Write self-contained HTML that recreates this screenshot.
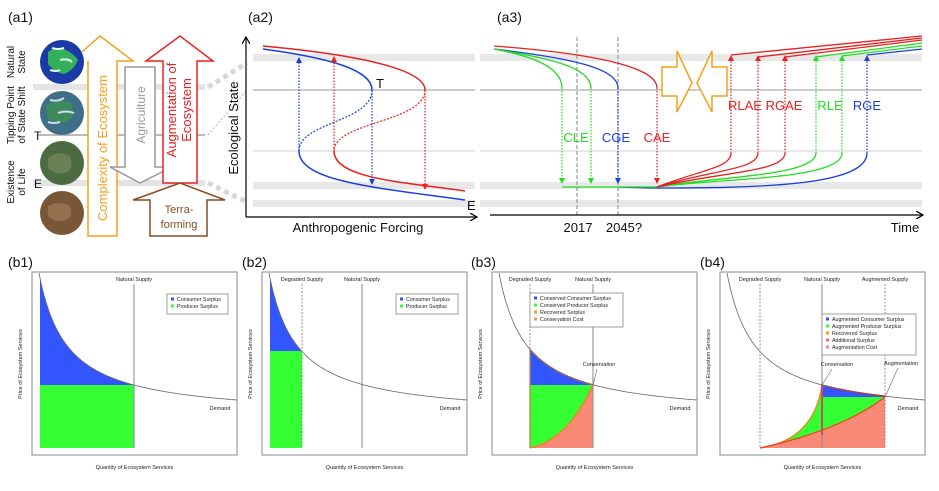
<!DOCTYPE html>
<html><head><meta charset="utf-8"><style>
html,body{margin:0;padding:0;background:#fff;}
svg{display:block;font-family:"Liberation Sans",Arial,sans-serif;}
.lbl{font-size:14px;fill:#111}
.ax{font-size:13px;fill:#111}
</style></head><body>
<svg width="939" height="491" viewBox="0 0 939 491" xmlns="http://www.w3.org/2000/svg">
<defs>
<marker id="ab" markerWidth="6" markerHeight="6" refX="3" refY="3" orient="auto" markerUnits="userSpaceOnUse"><path d="M0,0 L6,3 L0,6z" fill="#1a3fe0"/></marker>
<marker id="ar" markerWidth="6" markerHeight="6" refX="3" refY="3" orient="auto" markerUnits="userSpaceOnUse"><path d="M0,0 L6,3 L0,6z" fill="#e82020"/></marker>
<marker id="ag" markerWidth="6" markerHeight="6" refX="3" refY="3" orient="auto" markerUnits="userSpaceOnUse"><path d="M0,0 L6,3 L0,6z" fill="#22dd22"/></marker>
<marker id="ak" markerWidth="8" markerHeight="8" refX="6" refY="4" orient="auto" markerUnits="userSpaceOnUse"><path d="M0,0 L7,4 L0,8" fill="none" stroke="#000" stroke-width="1.2"/></marker>
</defs>

<!-- ===== a1 ===== -->
<text x="8" y="22" class="lbl">(a1)</text>
<rect x="33" y="84" width="172" height="6" fill="#e4e4e4"/>
<line x1="38" y1="135" x2="205" y2="135" stroke="#bbb" stroke-width="2"/>
<rect x="33" y="180" width="172" height="6" fill="#e4e4e4"/>
<circle cx="62" cy="62" r="22" fill="#1b3aa8"/>
<path d="M48,52 q8,-6 18,-2 q8,4 12,10 q-4,10 -14,14 q-10,-2 -16,-10z" fill="#35b05a"/>
<path d="M52,48 q6,2 12,0 M60,60 q8,-2 12,2 M50,70 q6,2 10,0" stroke="#dfe" stroke-width="2" fill="none"/>
<circle cx="62" cy="113" r="22" fill="#3f6f88"/>
<path d="M46,106 q10,-8 24,-4 q6,10 0,18 q-12,6 -22,-2z" fill="#3d8a5a"/>
<path d="M50,100 q8,2 14,-2 M58,113 q8,-3 16,0 M48,122 q6,2 12,0" stroke="#cde" stroke-width="2" fill="none"/>
<circle cx="62" cy="163" r="22" fill="#4d6b42"/>
<path d="M48,158 q10,-8 22,-2 q4,10 -2,16 q-12,4 -20,-4z" fill="#6b8055"/>
<circle cx="62" cy="213" r="22" fill="#7a5638"/>
<path d="M48,206 q10,-6 22,0 q4,10 -4,14 q-10,4 -18,-4z" fill="#95704f"/>
<text transform="translate(17,62) rotate(-90)" text-anchor="middle" font-size="10" fill="#111"><tspan x="0" dy="-3">Natural</tspan><tspan x="0" dy="11">State</tspan></text>
<text transform="translate(17,115) rotate(-90)" text-anchor="middle" font-size="10" fill="#111"><tspan x="0" dy="-3">Tipping Point</tspan><tspan x="0" dy="11">of State Shift</tspan></text>
<text transform="translate(17,182) rotate(-90)" text-anchor="middle" font-size="10" fill="#111"><tspan x="0" dy="-3">Existence</tspan><tspan x="0" dy="11">of Life</tspan></text>
<text x="34" y="140" font-size="12" fill="#111">T</text>
<text x="34" y="188" font-size="12" fill="#111">E</text>
<!-- orange arrow -->
<polygon points="88,236 117,236 117,61 133,61 100,36 88,46 88,61" fill="#fff" stroke="none"/>
<polyline points="88,61 88,236 117,236 117,61 133,61 100,36 82,52" fill="none" stroke="#f5a01a" stroke-width="1.5"/>
<text transform="translate(107,148) rotate(-90)" text-anchor="middle" font-size="13" fill="#f5a01a">Complexity of Ecosystem</text>
<!-- gray arrow -->
<polygon points="125,67 155,67 155,167 172,167 140,183 110,167 125,167" fill="#fff" stroke="#999" stroke-width="1.5"/>
<text transform="translate(145,115) rotate(-90)" text-anchor="middle" font-size="12" fill="#999">Agriculture</text>
<!-- red arrow -->
<polygon points="163,183 197,183 197,61 213,61 180,36 146,61 163,61" fill="#fff" stroke="#e82020" stroke-width="1.5"/>
<text transform="translate(180,110) rotate(-90)" text-anchor="middle" font-size="13" fill="#e82020"><tspan x="0" dy="-4">Augmentation of</tspan><tspan x="0" dy="15">Ecosystem</tspan></text>
<!-- brown arrow -->
<polygon points="150,236 207,236 207,200 225,200 180,183 133,200 150,200" fill="#fff" stroke="#8b4a20" stroke-width="1.5"/>
<text x="179" y="213" text-anchor="middle" font-size="11" fill="#8b4a20">Terra-</text>
<text x="179" y="228" text-anchor="middle" font-size="11" fill="#8b4a20">forming</text>
<line x1="208" y1="87" x2="247" y2="63" stroke="#d8d8d8" stroke-width="5" stroke-dasharray="5,4"/>
<line x1="208" y1="135" x2="247" y2="90" stroke="#c8c8c8" stroke-width="1.5" stroke-dasharray="2,2"/>
<line x1="208" y1="183" x2="247" y2="202" stroke="#d8d8d8" stroke-width="5" stroke-dasharray="5,4"/>

<!-- ===== a2 ===== -->
<text x="248" y="22" class="lbl">(a2)</text>
<rect x="253" y="54" width="222" height="7" fill="#e8e8e8"/>
<line x1="253" y1="90" x2="475" y2="90" stroke="#bbb" stroke-width="1.5"/>
<line x1="253" y1="151" x2="475" y2="151" stroke="#e8e8e8" stroke-width="2"/>
<rect x="253" y="182" width="222" height="7" fill="#e8e8e8"/>
<rect x="253" y="200" width="222" height="7" fill="#e8e8e8"/>
<line x1="246" y1="217" x2="246" y2="38" stroke="#000" stroke-width="1.2" marker-end="url(#ak)"/>
<line x1="246" y1="217" x2="476" y2="217" stroke="#000" stroke-width="1.2" marker-end="url(#ak)"/>
<text transform="translate(238,128) rotate(-90)" text-anchor="middle" class="ax">Ecological State</text>
<text x="358" y="232" text-anchor="middle" class="ax">Anthropogenic Forcing</text>
<path d="M263,46 C350,54 425,68 425,90" fill="none" stroke="#e82020" stroke-width="1.5"/>
<path d="M425,90 C425,122 334,122 334,151" fill="none" stroke="#e82020" stroke-width="1.2" stroke-dasharray="2,1.5"/>
<path d="M334,151 C334,178 400,182 465,191" fill="none" stroke="#e82020" stroke-width="1.5"/>
<path d="M263,49 C330,58 372,70 372,90" fill="none" stroke="#1a3fe0" stroke-width="1.5"/>
<path d="M372,90 C372,122 299,122 299,151" fill="none" stroke="#1a3fe0" stroke-width="1.2" stroke-dasharray="2,1.5"/>
<path d="M299,151 C299,182 380,188 465,200" fill="none" stroke="#1a3fe0" stroke-width="1.5"/>
<line x1="299" y1="151" x2="299" y2="60" stroke="#1a3fe0" stroke-width="1.2" stroke-dasharray="1.5,1.5" marker-end="url(#ab)"/>
<line x1="372" y1="90" x2="372" y2="182" stroke="#1a3fe0" stroke-width="1.2" stroke-dasharray="1.5,1.5" marker-end="url(#ab)"/>
<line x1="334" y1="151" x2="334" y2="59" stroke="#e82020" stroke-width="1.2" stroke-dasharray="1.5,1.5" marker-end="url(#ar)"/>
<line x1="425" y1="90" x2="425" y2="187" stroke="#e82020" stroke-width="1.2" stroke-dasharray="1.5,1.5" marker-end="url(#ar)"/>
<text x="376" y="88" font-size="13" fill="#111">T</text>
<text x="467" y="210" font-size="13" fill="#111">E</text>

<!-- ===== a3 ===== -->
<text x="497" y="22" class="lbl">(a3)</text>
<rect x="480" y="54" width="442" height="7" fill="#e8e8e8"/>
<line x1="480" y1="90" x2="922" y2="90" stroke="#bbb" stroke-width="1.5"/>
<line x1="480" y1="151" x2="922" y2="151" stroke="#e8e8e8" stroke-width="2"/>
<rect x="480" y="182" width="442" height="7" fill="#e8e8e8"/>
<rect x="480" y="200" width="442" height="7" fill="#e8e8e8"/>
<line x1="577" y1="37" x2="577" y2="215" stroke="#999" stroke-width="1.2" stroke-dasharray="4,2"/>
<line x1="618" y1="37" x2="618" y2="215" stroke="#999" stroke-width="1.2" stroke-dasharray="4,2"/>
<line x1="490" y1="215" x2="922" y2="215" stroke="#000" stroke-width="1.2" marker-end="url(#ak)"/>
<text x="578" y="232" text-anchor="middle" class="ax">2017</text>
<text x="624" y="232" text-anchor="middle" class="ax">2045?</text>
<text x="905" y="232" text-anchor="middle" class="ax">Time</text>
<path d="M494,46 C600,54 657,68 657,88" fill="none" stroke="#e82020" stroke-width="1.3"/>
<path d="M494,49 C570,58 618,68 618,88" fill="none" stroke="#1a3fe0" stroke-width="1.3"/>
<path d="M494,49 C545,58 591,66 591,88" fill="none" stroke="#22dd22" stroke-width="1.3"/>
<path d="M494,49 C530,56 562,66 562,88" fill="none" stroke="#22dd22" stroke-width="1.3"/>
<line x1="562" y1="88" x2="562" y2="181" stroke="#22dd22" stroke-width="1.2" stroke-dasharray="1.5,1.5" marker-end="url(#ag)"/>
<line x1="591" y1="88" x2="591" y2="181" stroke="#22dd22" stroke-width="1.2" stroke-dasharray="1.5,1.5" marker-end="url(#ag)"/>
<line x1="618" y1="88" x2="618" y2="181" stroke="#1a3fe0" stroke-width="1.2" stroke-dasharray="1.5,1.5" marker-end="url(#ab)"/>
<line x1="657" y1="88" x2="657" y2="181" stroke="#e82020" stroke-width="1.2" stroke-dasharray="1.5,1.5" marker-end="url(#ar)"/>
<path d="M618,187 L650,188 C760,188 867,186 867,153" fill="none" stroke="#1a3fe0" stroke-width="1.3"/>
<line x1="562" y1="187" x2="657" y2="187" stroke="#22dd22" stroke-width="1.3"/>
<path d="M657,187 C720,178 842,180 842,153" fill="none" stroke="#22dd22" stroke-width="1.3"/>
<path d="M657,187 C720,176 816,176 816,153" fill="none" stroke="#22dd22" stroke-width="1.3"/>
<path d="M657,187 C720,172 785,172 785,153" fill="none" stroke="#e82020" stroke-width="1.3"/>
<path d="M657,187 C710,170 758,170 758,153" fill="none" stroke="#e82020" stroke-width="1.3"/>
<path d="M657,187 C700,170 731,168 731,153" fill="none" stroke="#e82020" stroke-width="1.3"/>
<line x1="731" y1="153" x2="731" y2="58" stroke="#e82020" stroke-width="1.2" stroke-dasharray="1.5,1.5" marker-end="url(#ar)"/>
<line x1="758" y1="153" x2="758" y2="58" stroke="#e82020" stroke-width="1.2" stroke-dasharray="1.5,1.5" marker-end="url(#ar)"/>
<line x1="785" y1="153" x2="785" y2="58" stroke="#e82020" stroke-width="1.2" stroke-dasharray="1.5,1.5" marker-end="url(#ar)"/>
<line x1="816" y1="153" x2="816" y2="58" stroke="#22dd22" stroke-width="1.2" stroke-dasharray="1.5,1.5" marker-end="url(#ag)"/>
<line x1="842" y1="153" x2="842" y2="58" stroke="#22dd22" stroke-width="1.2" stroke-dasharray="1.5,1.5" marker-end="url(#ag)"/>
<line x1="867" y1="153" x2="867" y2="58" stroke="#1a3fe0" stroke-width="1.2" stroke-dasharray="1.5,1.5" marker-end="url(#ab)"/>
<path d="M731,55 L922,36" stroke="#e82020" stroke-width="1.3" fill="none"/>
<path d="M758,57 L922,38" stroke="#e82020" stroke-width="1.3" fill="none"/>
<path d="M785,57 L922,40" stroke="#e82020" stroke-width="1.3" fill="none"/>
<path d="M816,57 L922,43" stroke="#22dd22" stroke-width="1.3" fill="none"/>
<path d="M842,56 L922,46" stroke="#22dd22" stroke-width="1.3" fill="none"/>
<path d="M867,55 L922,49" stroke="#1a3fe0" stroke-width="1.3" fill="none"/>
<polygon points="662,67 677,67 677,51 692,83 677,112 677,96 662,96" fill="#fff" stroke="#f5a01a" stroke-width="1.5"/>
<polygon points="727,67 712,67 712,51 697,83 712,112 712,96 727,96" fill="#fff" stroke="#f5a01a" stroke-width="1.5"/>
<g font-size="13" text-anchor="middle">
<text x="576" y="142" fill="#22dd22">CLE</text>
<text x="616" y="142" fill="#1a3fe0">CGE</text>
<text x="657" y="142" fill="#e82020">CAE</text>
<text x="745" y="110" fill="#e82020">RLAE</text>
<text x="784" y="110" fill="#e82020">RGAE</text>
<text x="830" y="110" fill="#22dd22">RLE</text>
<text x="867" y="110" fill="#1a3fe0">RGE</text>
</g>

<g font-size="14" fill="#111">
<text x="8" y="267">(b1)</text>
<text x="242" y="267">(b2)</text>
<text x="471" y="267">(b3)</text>
<text x="700" y="267">(b4)</text>
</g>
<g id="bp"></g>
</svg>
<script>
(function(){
var g=document.getElementById('bp');var NS='http://www.w3.org/2000/svg';
function el(t,a,txt){var e=document.createElementNS(NS,t);for(var k in a)e.setAttribute(k,a[k]);if(txt!==undefined)e.textContent=txt;g.appendChild(e);return e;}
function f(x){return 145.9-4043/(x+20.9);}
function curve(ox,x0,x1){var d='';for(var x=x0;x<=x1;x+=1){d+=(d?'L':'M')+(ox+x).toFixed(1)+','+(272+f(x)).toFixed(1);}return d;}
function seg(ox,x0,x1){var d='';for(var x=x0;x<=x1;x+=1){d+='L'+(ox+x).toFixed(1)+','+(272+f(x)).toFixed(1);}return d;}
var boxes=[32,262,492,720],W=205,top=272,bot=455;
boxes.forEach(function(ox,i){
 if(i==0){
  el('path',{d:'M'+(ox+8)+','+(272+f(8))+seg(ox,8,102)+'L'+(ox+102)+',385 L'+(ox+8)+',385Z',fill:'#3355ff'});
  el('rect',{x:ox+8,y:385,width:94,height:63,fill:'#33ff33'});
 }
 if(i==1){
  el('path',{d:'M'+(ox+8)+','+(272+f(8))+seg(ox,8,40)+'L'+(ox+40)+',351 L'+(ox+8)+',351Z',fill:'#3355ff'});
  el('rect',{x:ox+8,y:351,width:32,height:97,fill:'#33ff33'});
 }
 if(i==2){
  var L=ox+38,R=ox+101;
  el('path',{d:'M'+L+','+(272+f(38))+seg(ox,38,101)+'L'+R+',385 L'+L+',385Z',fill:'#3355ff'});
  el('path',{d:'M'+L+',385 L'+R+',385 Q'+(L+38)+',440 '+L+',448Z',fill:'#33ff33'});
  el('path',{d:'M'+L+',448 Q'+(L+38)+',440 '+R+',385 L'+R+',448Z',fill:'#fa8a78'});
  el('path',{d:'M'+L+',448 L'+L+','+(272+f(38))+seg(ox,38,101)+' Q'+(L+38)+',440 '+L+',448',fill:'none',stroke:'#f5801a','stroke-width':1.3});
 }
 if(i==3){
  var D=ox+40,N=ox+102,A=ox+165;
  el('path',{d:'M'+N+','+(272+f(102))+seg(ox,102,165)+'L'+A+',397 L'+N+',397Z',fill:'#3355ff'});
  el('path',{d:'M'+D+',448 Q'+(N-8)+',440 '+N+',385 L'+N+',397 L'+A+',397 Q'+(N+20)+',430 '+D+',448Z',fill:'#33ff33'});
  el('path',{d:'M'+D+',448 Q'+(N+20)+',430 '+A+',397 L'+A+',448Z',fill:'#fa8a78'});
  el('path',{d:'M'+D+',448 Q'+(N-8)+',440 '+N+',385',fill:'none',stroke:'#f5801a','stroke-width':1.3});
  el('path',{d:'M'+D+',448 Q'+(N+20)+',430 '+A+',397',fill:'none',stroke:'#f5401a','stroke-width':1.3});
  el('path',{d:'M'+N+','+(272+f(102))+seg(ox,102,165),fill:'none',stroke:'#ee2020','stroke-width':1.5});
  el('line',{x1:N,y1:385,x2:N,y2:435,stroke:'#ee2020','stroke-width':2});
 }
 el('rect',{x:ox,y:top,width:W,height:bot-top,fill:'none',stroke:'#888','stroke-width':1});
 el('path',{d:curve(ox,7,W),fill:'none',stroke:'#666','stroke-width':0.8});
 el('text',{x:ox+188,y:410,'font-size':5.5,fill:'#222','text-anchor':'middle'},'Demand');
 el('text',{x:ox+W/2,y:469,'font-size':5.5,fill:'#222','text-anchor':'middle'},'Quantity of Ecosystem Services');
 el('text',{transform:'translate('+(ox-10)+',364) rotate(-90)','font-size':5.5,fill:'#222','text-anchor':'middle'},'Price of Ecosystem Services');
 var nx=(i==0?102:(i==1?100:(i==2?101:102)));
 el('line',{x1:ox+nx,y1:284,x2:ox+nx,y2:448,stroke:'#888','stroke-width':1});
 el('text',{x:ox+nx,y:281,'font-size':5.5,fill:'#222','text-anchor':'middle'},'Natural Supply');
 if(i>0){var dx=i==2?38:40;el('line',{x1:ox+dx,y1:284,x2:ox+dx,y2:448,stroke:'#777','stroke-width':0.8,'stroke-dasharray':'2,1.5'});
  el('text',{x:ox+dx,y:281,'font-size':5.5,fill:'#222','text-anchor':'middle'},'Degraded Supply');}
 if(i==3){el('line',{x1:ox+165,y1:284,x2:ox+165,y2:448,stroke:'#777','stroke-width':0.8,'stroke-dasharray':'2,1.5'});
  el('text',{x:ox+165,y:281,'font-size':5.5,fill:'#222','text-anchor':'middle'},'Augmented Supply');}
});
function legend(x,y,w,items){
 el('rect',{x:x,y:y,width:w,height:items.length*7+6,fill:'#fff',stroke:'#888','stroke-width':0.8});
 items.forEach(function(it,k){var yy=y+6+k*7;
  el('rect',{x:x+4,y:yy-2.5,width:3,height:3,fill:it[1]});
  el('text',{x:x+10,y:yy+1,'font-size':5.3,fill:'#222'},it[0]);});
}
legend(167,294,61,[['Consumer Surplus','#3355ff'],['Producer Surplus','#33ff33']]);
legend(396,294,62,[['Consumer Surplus','#3355ff'],['Producer Surplus','#33ff33']]);
legend(530,293,93,[['Conserved Consumer Surplus','#3355ff'],['Conserved Producer Surplus','#33ff33'],['Recovered Surplus','#f5a01a'],['Conservation Cost','#fa8a78']]);
legend(822,314,94,[['Augmented Consumer Surplus','#3355ff'],['Augmented Producer Surplus','#33ff33'],['Recovered Surplus','#f5a01a'],['Additional Surplus','#f07070'],['Augmentation Cost','#fa8a78']]);
el('text',{x:599,y:366,'font-size':5.5,fill:'#222','text-anchor':'middle'},'Conservation');
el('line',{x1:593,y1:385,x2:597,y2:369,stroke:'#666','stroke-width':0.6});
el('text',{x:837,y:366,'font-size':5.5,fill:'#222','text-anchor':'middle'},'Conservation');
el('line',{x1:822,y1:385,x2:832,y2:369,stroke:'#666','stroke-width':0.6});
el('text',{x:901,y:365,'font-size':5.5,fill:'#222','text-anchor':'middle'},'Augmentation');
el('line',{x1:885,y1:397,x2:898,y2:368,stroke:'#666','stroke-width':0.6});
})();
</script>
</body></html>
